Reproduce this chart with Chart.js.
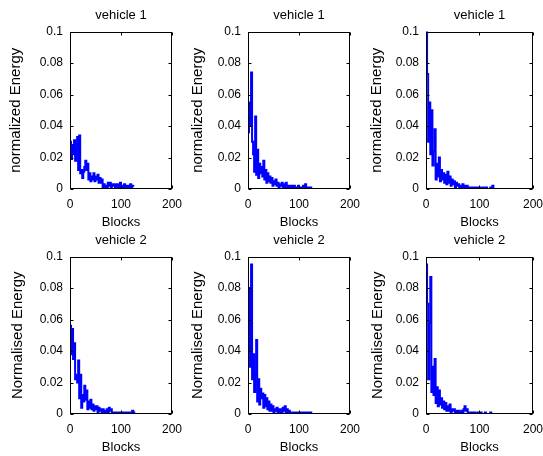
<!DOCTYPE html>
<html><head><meta charset="utf-8">
<script src="https://cdn.jsdelivr.net/npm/chart.js@4.4.1/dist/chart.umd.min.js"></script>
<style>
html,body{margin:0;padding:0;background:#fff;overflow:hidden;width:543px;height:456px;position:relative;}
canvas{position:absolute;}
</style></head><body>
<canvas id="c1"></canvas><canvas id="c2"></canvas><canvas id="c3"></canvas>
<canvas id="c4"></canvas><canvas id="c5"></canvas><canvas id="c6"></canvas>
<script>
// ---- data ----
const blocks = [0,2,4,6,8,10,12,14,16,18,20,22,24,26,28,30,32,34,36,38,40,42,44,46,48,50,52,54,56,58,60,62,64,66,68,70,72,74,76,78,80,82,84,86,88,90,92,94,96,98,100,102,104,106,108,110,112,114,116,118,120,122,124,126];
const xTickValues = [0, 100, 200];
const yTickValues = [0, 0.02, 0.04, 0.06, 0.08, 0.1];
const yTickLabels = ["0", "0.02", "0.04", "0.06", "0.08", "0.1"];
const panelTitles = ["vehicle 1","vehicle 1","vehicle 1","vehicle 2","vehicle 2","vehicle 2"];
const yAxisTitles = ["normalized Energy","normalized Energy","normalized Energy","Normalised Energy","Normalised Energy","Normalised Energy"];
const xAxisTitle = "Blocks";

const vehicle1A = [0.030,0.019,0.028,0.022,0.031,0.018,0.026,0.033,0.012,0.034,0.010,0.012,0.007,0.011,0.014,0.018,0.012,0.016,0.006,0.010,0.005,0.008,0.006,0.010,0.005,0.008,0.006,0.009,0.004,0.007,0.004,0.006,0.001,0.003,0.000,0.002,0.001,0.004,0.002,0.004,0.001,0.003,0.002,0.003,0.001,0.002,0.003,0.001,0.002,0.004,0.001,0.002,0.001,0.003,0.002,0.001,0.002,0.001,0.002,0.003,0.001,0.002,0.002,0.002];
const vehicle1B = [0.036,0.055,0.040,0.074,0.030,0.022,0.011,0.046,0.009,0.025,0.007,0.016,0.010,0.014,0.008,0.018,0.006,0.012,0.004,0.010,0.005,0.008,0.004,0.007,0.002,0.005,0.003,0.006,0.002,0.004,0.001,0.003,0.002,0.004,0.001,0.003,0.001,0.004,0.001,0.002,0.000,0.002,0.001,0.002,0.001,0.002,0.000,0.001,0.001,0.002,0.001,0.001,0.000,0.001,0.002,0.001,0.003,0.000,0.001,0.001,0.000,0.001,0.000,0.000];
const vehicle1C = [0.100,0.073,0.030,0.055,0.022,0.050,0.015,0.024,0.038,0.006,0.016,0.008,0.020,0.005,0.012,0.006,0.010,0.004,0.009,0.003,0.011,0.004,0.008,0.002,0.006,0.003,0.005,0.001,0.004,0.002,0.003,0.001,0.002,0.001,0.003,0.001,0.002,0.000,0.002,0.001,0.001,0.000,0.001,0.001,0.000,0.001,0.001,0.000,0.001,0.000,0.001,0.000,0.000,0.001,0.000,0.000,0.001,0.000,0.000,0.000,0.001,0.000,0.002,0.000];
const vehicle2A = [0.056,0.038,0.054,0.035,0.045,0.022,0.025,0.020,0.034,0.010,0.025,0.004,0.012,0.008,0.018,0.009,0.015,0.003,0.008,0.004,0.009,0.003,0.006,0.002,0.005,0.003,0.005,0.001,0.004,0.002,0.003,0.001,0.003,0.000,0.002,0.001,0.003,0.001,0.004,0.002,0.003,0.001,0.001,0.000,0.001,0.001,0.000,0.001,0.001,0.000,0.001,0.001,0.000,0.001,0.000,0.001,0.000,0.001,0.001,0.000,0.001,0.002,0.001,0.000];
const vehicle2B = [0.040,0.080,0.030,0.095,0.022,0.038,0.014,0.025,0.047,0.008,0.022,0.006,0.016,0.010,0.013,0.004,0.012,0.005,0.010,0.003,0.008,0.002,0.006,0.002,0.005,0.001,0.003,0.002,0.004,0.001,0.003,0.001,0.003,0.000,0.004,0.002,0.005,0.001,0.003,0.000,0.002,0.001,0.000,0.001,0.001,0.000,0.001,0.001,0.000,0.001,0.000,0.001,0.001,0.000,0.001,0.000,0.001,0.001,0.000,0.001,0.000,0.001,0.000,0.000];
const vehicle2C = [0.095,0.070,0.022,0.058,0.087,0.014,0.030,0.012,0.035,0.007,0.017,0.005,0.015,0.006,0.010,0.004,0.008,0.003,0.007,0.002,0.005,0.002,0.006,0.001,0.003,0.002,0.003,0.001,0.002,0.001,0.002,0.001,0.001,0.002,0.001,0.003,0.005,0.002,0.003,0.001,0.000,0.001,0.000,0.001,0.000,0.001,0.000,0.000,0.001,0.000,0.000,0.001,0.000,0.000,0.000,0.001,0.000,0.000,0.000,0.000,0.001,0.000,0.000,0.000];

const seriesList = [vehicle1A, vehicle1B, vehicle1C, vehicle2A, vehicle2B, vehicle2C];

// ---- layout ----
const FONT = "'Liberation Sans', Arial, Helvetica, sans-serif";
const panels = [
  {id:'c1', left:0,   top:0,   w:190, yTitleOff:7},
  {id:'c2', left:178, top:0,   w:190, yTitleOff:11},
  {id:'c3', left:356, top:0,   w:195, yTitleOff:12},
  {id:'c4', left:0,   top:225, w:190, yTitleOff:9},
  {id:'c5', left:178, top:225, w:190, yTitleOff:11},
  {id:'c6', left:356, top:225, w:195, yTitleOff:13},
];
const H = 232;

const frame = {
  id: 'frame',
  afterDatasetsDraw(chart) {
    const {ctx, chartArea: a, scales: {x, y}} = chart;
    const L = Math.round(a.left) + 0.5, R = Math.round(a.right) - 0.5;
    const T = Math.round(a.top) + 0.5, B = Math.round(a.bottom) - 0.5;
    ctx.save();
    ctx.strokeStyle = '#000';
    ctx.lineWidth = 1;
    ctx.strokeRect(L, T, R - L, B - T);
    ctx.beginPath();
    const tl = 3;
    y.ticks.forEach(t => {
      const py = Math.round(y.getPixelForValue(t.value)) + 0.5;
      ctx.moveTo(L, py); ctx.lineTo(L + tl, py);
      ctx.moveTo(R, py); ctx.lineTo(R - tl, py);
    });
    x.ticks.forEach(t => {
      const px = Math.round(x.getPixelForValue(t.value)) + 0.5;
      ctx.moveTo(px, B); ctx.lineTo(px, B - tl);
      ctx.moveTo(px, T); ctx.lineTo(px, T + tl);
    });
    ctx.stroke();
    ctx.restore();
  }
};

panels.forEach((p, i) => {
  const cv = document.getElementById(p.id);
  cv.width = p.w; cv.height = H;
  cv.style.left = p.left + 'px'; cv.style.top = p.top + 'px';
  cv.style.width = p.w + 'px'; cv.style.height = H + 'px';
  new Chart(cv, {
    type: 'line',
    data: {
      labels: blocks,
      datasets: [{
        data: seriesList[i],
        borderColor: '#0000ff',
        borderWidth: 2,
        pointRadius: 0,
        stepped: true,
        fill: false
      }]
    },
    options: {
      responsive: false,
      animation: false,
      devicePixelRatio: 1,
      layout: {padding: {left: 0, right: p.w - 178 + (i % 3 === 2 ? 0 : -1), top: 0, bottom: 0}},
      plugins: {
        legend: {display: false},
        tooltip: {enabled: false},
        title: {
          display: true, text: panelTitles[i], fullSize: false, color: '#000',
          font: {family: FONT, size: 13, weight: 'normal'},
          padding: {top: 8, bottom: 8}
        }
      },
      scales: {
        x: {
          type: 'linear', min: 0, max: 200,
          afterBuildTicks: s => { s.ticks = xTickValues.map(v => ({value: v})); },
          afterFit: s => { s.height = H - 189; },
          grid: {display: false, drawTicks: false},
          border: {display: false},
          ticks: {color: '#000', font: {family: FONT, size: 12}, padding: 8, maxRotation: 0, autoSkip: false},
          title: {display: true, text: xAxisTitle, color: '#000', font: {family: FONT, size: 13}, padding: {top: 0, bottom: 2}}
        },
        y: {
          type: 'linear', min: 0, max: 0.1,
          afterBuildTicks: s => { s.ticks = yTickValues.map(v => ({value: v})); },
          afterFit: s => { s.width = 70; },
          grid: {display: false, drawTicks: false},
          border: {display: false},
          ticks: {color: '#000', font: {family: FONT, size: 12}, padding: 7,
                  callback: (v, idx) => yTickLabels[idx]},
          title: {display: true, text: yAxisTitles[i], color: '#000', font: {family: FONT, size: 15}, padding: {top: p.yTitleOff, bottom: 0}}
        }
      }
    },
    plugins: [frame]
  });
});
</script>
</body></html>
